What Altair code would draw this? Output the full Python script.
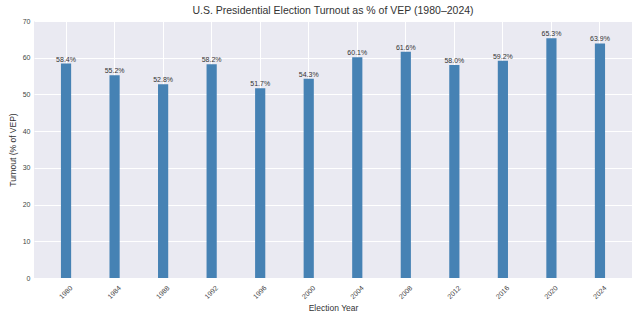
import altair as alt
import pandas as pd

years = ["1980", "1984", "1988", "1992", "1996", "2000", "2004", "2008", "2012", "2016", "2020", "2024"]
turnout = [58.4, 55.2, 52.8, 58.2, 51.7, 54.3, 60.1, 61.6, 58.0, 59.2, 65.3, 63.9]
labels = [f"{v:.1f}%" for v in turnout]

df = pd.DataFrame({"year": years, "turnout": turnout, "label": labels})

FONT = "Liberation Sans"

x = alt.X("year:O", title="Election Year", sort=years,
          scale=alt.Scale(paddingInner=0.79, paddingOuter=0.555),
          axis=alt.Axis(labelAngle=-45, labelAlign="center", labelBaseline="middle",
                        labelPadding=14, labelFontSize=7, labelColor="#444",
                        ticks=False, domain=False, grid=True, gridColor="white",
                        gridWidth=1, titleFontSize=8.5, titleFontWeight="normal",
                        titleColor="#333", titleY=29, titleBaseline="middle", titleFont=FONT,
                        labelFont=FONT))
y = alt.Y("turnout:Q", title="Turnout (% of VEP)",
          scale=alt.Scale(domain=[0, 70], nice=False),
          axis=alt.Axis(values=[0, 10, 20, 30, 40, 50, 60, 70], labelFontSize=7,
                        labelColor="#444", labelPadding=4, ticks=False, domain=False,
                        gridColor="white", gridWidth=1, titleFontSize=8.5,
                        titleFontWeight="normal", titleColor="#333",
                        titleX=-22, titleY=128.5, titleAlign="center", titleBaseline="middle",
                        titleFont=FONT, labelFont=FONT, labelOverlap=False))

base = alt.Chart(df).encode(x=x, y=y)
bars = base.mark_bar(color="#4682B4")
text = base.mark_text(baseline="bottom", dy=-1, fontSize=7, color="#333",
                      font=FONT).encode(text="label:N")

chart = alt.layer(bars, text).properties(
    width=598, height=257,
    autosize=alt.AutoSizeParams(type="none"),
    padding={"left": 34, "top": 21, "right": 8, "bottom": 43},
    background="white",
    title=alt.TitleParams("U.S. Presidential Election Turnout as % of VEP (1980–2024)",
                          fontSize=10.5, font=FONT, fontWeight="normal", color="#333",
                          anchor="middle", offset=1),
).configure_view(fill="#EAEAF2", stroke=None)

chart.save("out.html", embed_options={"renderer": "svg", "actions": False})
